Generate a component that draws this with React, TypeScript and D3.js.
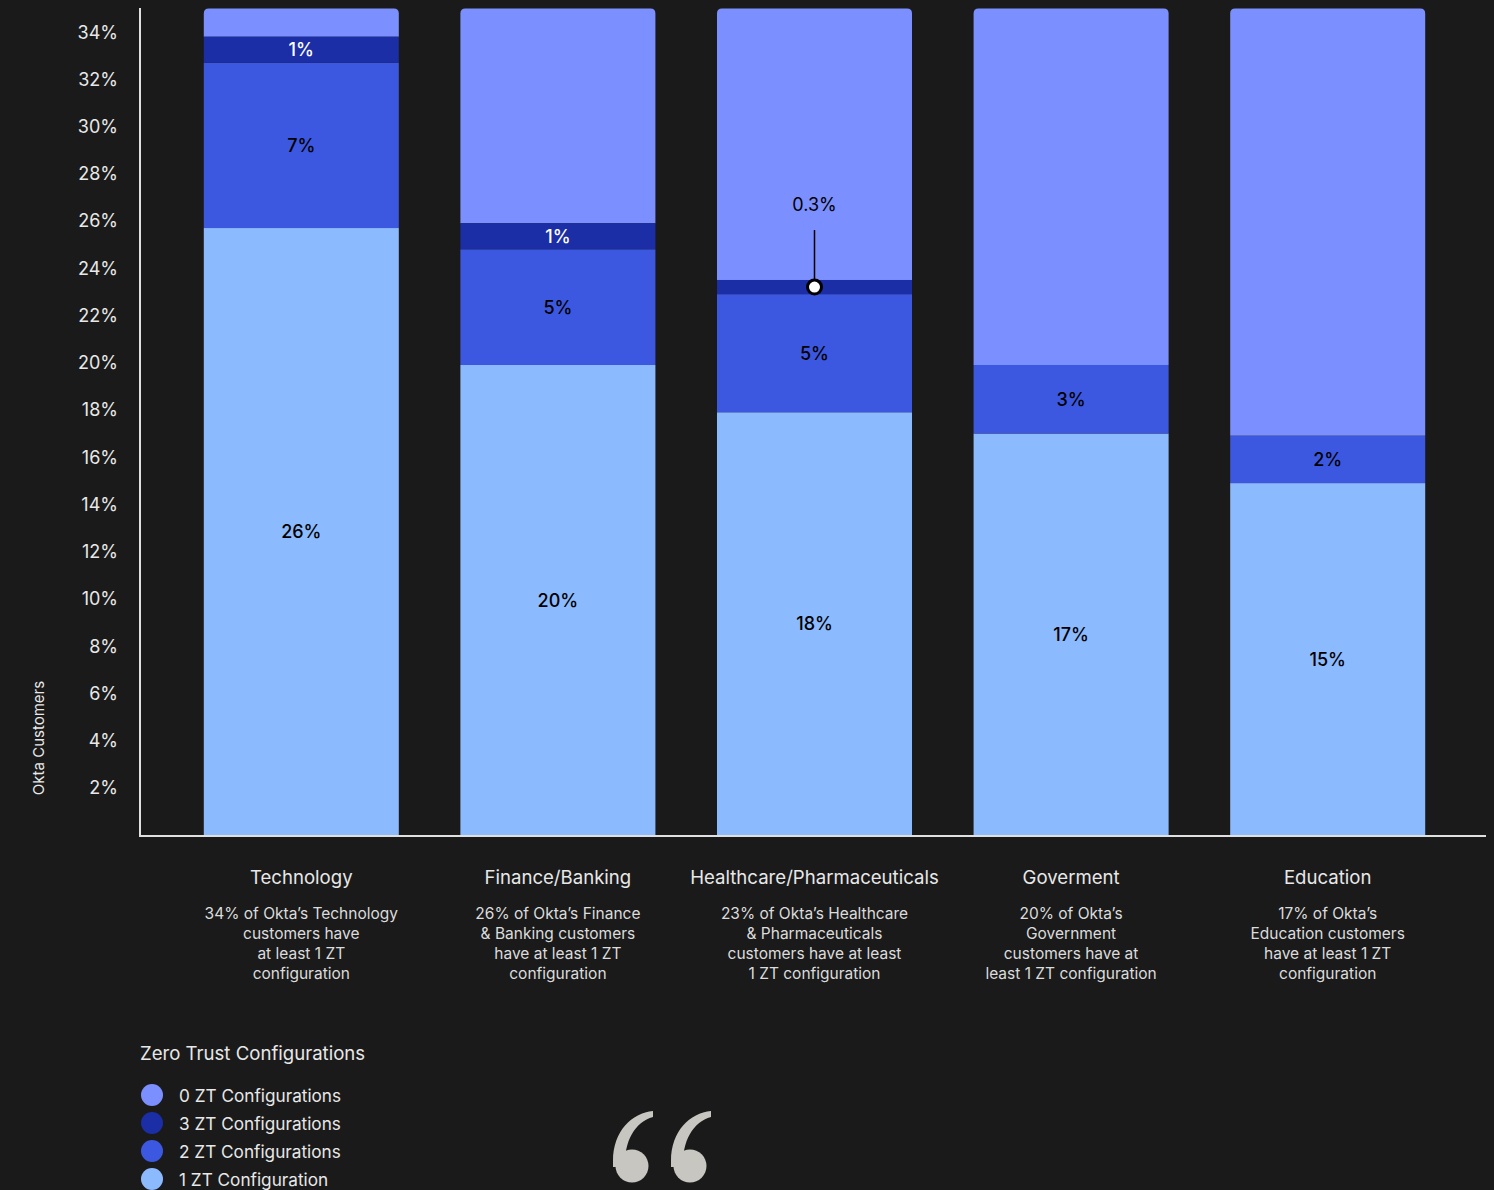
import React from "react";
import * as d3 from "d3";

const categories = ["Technology", "Finance/Banking", "Healthcare/Pharmaceuticals", "Goverment", "Education"];
const oneZT = [25.7, 19.9, 17.9, 17.0, 14.9];
const twoZT = [7.0, 4.9, 5.0, 2.9, 2.0];
const threeZT = [1.1, 1.1, 0.6, 0, 0];
const oneZTLabels = ["26%", "20%", "18%", "17%", "15%"];
const twoZTLabels = ["7%", "5%", "5%", "3%", "2%"];
const threeZTLabels = ["1%", "1%", "0.3%", "", ""];
const yMax = 35;
const yTicks = [2, 4, 6, 8, 10, 12, 14, 16, 18, 20, 22, 24, 26, 28, 30, 32, 34];
const descriptions = [
  ["34% of Okta\u2019s Technology", "customers have", "at least 1 ZT", "configuration"],
  ["26% of Okta\u2019s Finance", "& Banking customers", "have at least 1 ZT", "configuration"],
  ["23% of Okta\u2019s Healthcare", "& Pharmaceuticals", "customers have at least", "1 ZT configuration"],
  ["20% of Okta\u2019s", "Government", "customers have at", "least 1 ZT configuration"],
  ["17% of Okta\u2019s", "Education customers", "have at least 1 ZT", "configuration"],
];
const legendTitle = "Zero Trust Configurations";
const legendItems = ["0 ZT Configurations", "3 ZT Configurations", "2 ZT Configurations", "1 ZT Configuration"];

const COLORS = { zero: "#7b8ffe", three: "#1b2ea6", two: "#3d58e0", one: "#8cbafe" };
const legendColors = [COLORS.zero, COLORS.three, COLORS.two, COLORS.one];
const BG = "#1a1a1a";
const TEXT = "#e8e8e8";
const FONT = "Inter, 'Noto Sans', sans-serif";

const W = 1494;
const H = 1190;

function topRoundedRect(x: number, y: number, w: number, h: number, r: number) {
  return `M${x},${y + h}V${y + r}Q${x},${y} ${x + r},${y}H${x + w - r}Q${x + w},${y} ${x + w},${y + r}V${y + h}Z`;
}

function QuoteGlyph({ x, y, color }: { x: number; y: number; color: string }) {
  return (
    <g transform={`translate(${x},${y})`} fill={color}>
      <path d="M41,0 C20,2 1,20 1,50 L1,56 L13,56 C12,30 23,11 41,6 Z" />
      <circle cx={20} cy={55} r={16.5} />
    </g>
  );
}

export default function App() {
  const x = d3.scaleBand<string>().domain(categories).range([173, 1456]).paddingInner(0.24).paddingOuter(0.12);
  const y = d3.scaleLinear().domain([0, 34]).range([835, 32]);
  const bw = x.bandwidth();

  return (
    <svg width={W} height={H} style={{ position: "absolute", left: 0, top: 0, background: BG, fontFamily: FONT }}>
      <rect x={0} y={0} width={W} height={H} fill={BG} />
      {yTicks.map((t) => (
        <text key={t} x={118} y={y(t)} textAnchor="end" dominantBaseline="central" fill={TEXT} fontSize={18}>
          {t}%
        </text>
      ))}
      <text
        transform={`translate(38,738) rotate(-90)`}
        textAnchor="middle"
        dominantBaseline="central"
        fill={TEXT}
        fontSize={15}
      >
        Okta Customers
      </text>
      {categories.map((c, i) => {
        const x0 = x(c)!;
        const cx = x0 + bw / 2;
        const c1 = oneZT[i];
        const c2 = c1 + twoZT[i];
        const c3 = c2 + threeZT[i];
        const segs = [
          { lo: 0, hi: c1, color: COLORS.one, label: oneZTLabels[i], fill: "#000" },
          { lo: c1, hi: c2, color: COLORS.two, label: twoZTLabels[i], fill: "#000" },
          { lo: c2, hi: c3, color: COLORS.three, label: threeZTLabels[i], fill: "#fff" },
        ];
        return (
          <g key={c}>
            <path d={topRoundedRect(x0, y(yMax), bw, y(c3) - y(yMax), 5)} fill={COLORS.zero} />
            {segs.map((s, j) =>
              s.hi > s.lo ? (
                <rect key={j} x={x0} y={y(s.hi)} width={bw} height={y(s.lo) - y(s.hi)} fill={s.color} />
              ) : null
            )}
            {segs.map((s, j) => {
              if (!(s.hi > s.lo) || !s.label) return null;
              const mid = (y(s.hi) + y(s.lo)) / 2;
              if (s.hi - s.lo < 1) {
                return (
                  <g key={"l" + j}>
                    <text x={cx} y={mid - 83} textAnchor="middle" dominantBaseline="central" fill="#000" fontSize={18}>
                      {s.label}
                    </text>
                    <line x1={cx} x2={cx} y1={mid - 57} y2={mid - 6} stroke="#000" strokeWidth={1.5} />
                    <circle cx={cx} cy={mid} r={7} fill="#fff" stroke="#000" strokeWidth={3} />
                  </g>
                );
              }
              return (
                <text key={"l" + j} x={cx} y={mid} textAnchor="middle" dominantBaseline="central" fill={s.fill} fontSize={18} fontWeight={500}>
                  {s.label}
                </text>
              );
            })}
            <text x={cx} y={877} textAnchor="middle" dominantBaseline="central" fill={TEXT} fontSize={18.6}>
              {c}
            </text>
            {descriptions[i].map((line, k) => (
              <text key={k} x={cx} y={913 + k * 20} textAnchor="middle" dominantBaseline="central" fill="#dcdcdc" fontSize={15.5}>
                {line}
              </text>
            ))}
          </g>
        );
      })}
      <line x1={140} x2={140} y1={8} y2={836} stroke="#e0e0e0" strokeWidth={2} />
      <line x1={139} x2={1486} y1={836} y2={836} stroke="#e0e0e0" strokeWidth={2} />
      <text x={140} y={1053} dominantBaseline="central" fill={TEXT} fontSize={18.6}>
        {legendTitle}
      </text>
      {legendItems.map((item, i) => (
        <g key={item}>
          <circle cx={152} cy={1095 + i * 28} r={11} fill={legendColors[i]} />
          <text x={179} y={1095 + i * 28} dominantBaseline="central" fill={TEXT} fontSize={17.2}>
            {item}
          </text>
        </g>
      ))}
      <QuoteGlyph x={612} y={1111} color="#c8c6c0" />
      <QuoteGlyph x={670} y={1111} color="#c8c6c0" />
    </svg>
  );
}
